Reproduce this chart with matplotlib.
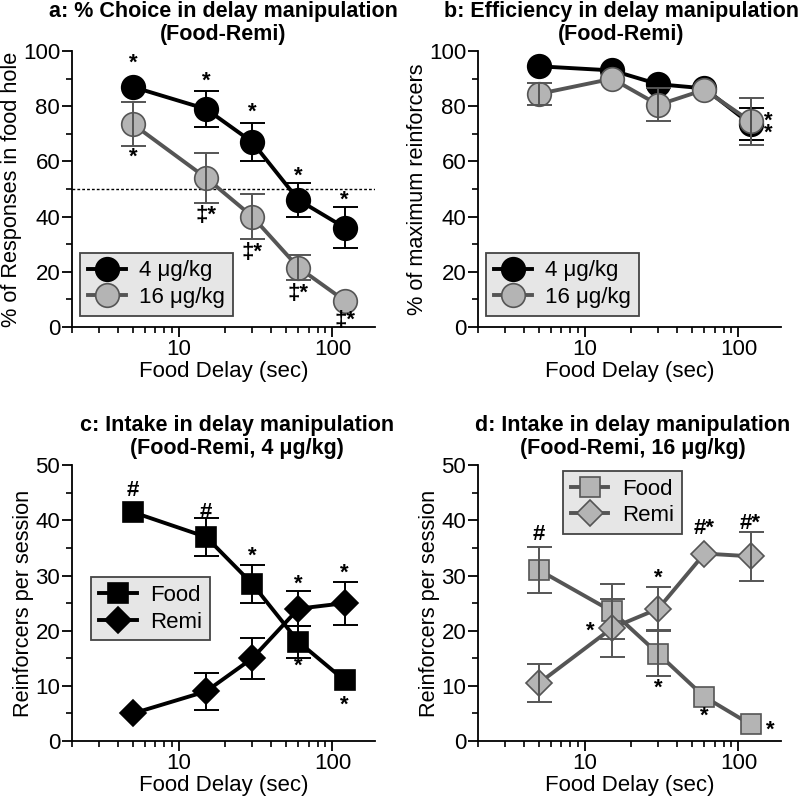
import matplotlib
matplotlib.use('Agg')
import matplotlib.pyplot as plt
from matplotlib.ticker import FixedLocator, MultipleLocator, NullFormatter

plt.rcParams['font.family'] = ['Liberation Sans', 'DejaVu Sans']

# Data (error of 0 = bar hidden behind marker in the original)
delay = [5, 15, 30, 60, 120]

# a: % choice in food hole
choice_4 = [87, 79, 67, 46, 36]
choice_4_err = [0, 6.5, 7, 6, 7.5]
choice_16 = [73.5, 54, 40, 21.5, 9.5]
choice_16_err = [8, 9, 8, 4.5, 0]

# b: efficiency
eff_4 = [94.5, 93, 88, 86.5, 73.5]
eff_4_err = [0, 0, 0, 0, 5.7]
eff_16 = [84.5, 90, 80.5, 86, 74.5]
eff_16_err = [4, 0, 6, 0, 8.5]

# c: intake at 4 ug/kg
food_4 = [41.5, 37, 28.5, 18, 11]
food_4_err = [0, 3.4, 3.4, 2.9, 0]
remi_4 = [5, 9, 15, 24, 25]
remi_4_err = [0, 3.3, 3.7, 3.2, 3.9]

# d: intake at 16 ug/kg
food_16 = [31, 23.5, 15.8, 8, 3]
food_16_err = [4.1, 5, 4.1, 0, 0]
remi_16 = [10.5, 20.5, 24, 34, 33.5]
remi_16_err = [3.5, 5.2, 3.9, 0, 4.4]

BLACK = 'black'
GRAY_LINE = '#555555'
GRAY_FILL = '#b4b4b4'

fig = plt.figure(figsize=(8, 7.99), dpi=100)
ax_a = fig.add_axes([0.09, 0.591, 0.379, 0.345])
ax_b = fig.add_axes([0.5975, 0.591, 0.379, 0.345])
ax_c = fig.add_axes([0.09, 0.0726, 0.379, 0.345])
ax_d = fig.add_axes([0.5975, 0.0726, 0.379, 0.345])


def series(ax, y, err, marker, ms, line, fill, label):
    ax.plot(delay, y, color=line, lw=2.8, marker=marker, ms=ms,
            mfc=fill, mec=line, mew=1.2, label=label, zorder=3)
    pts = [(x, v, e) for x, v, e in zip(delay, y, err) if e > 0]
    ax.errorbar([p[0] for p in pts], [p[1] for p in pts], yerr=[p[2] for p in pts],
                fmt='none', ecolor=line, elinewidth=1.4,
                capsize=9, capthick=1.4, zorder=4)


def style(ax, ymax, major, minor, ylabel, title, tx=0.5):
    ax.set_xscale('log')
    ax.set_xlim(2, 190)
    ax.set_ylim(0, ymax)
    ax.set_xticks([10, 100])
    ax.set_xticklabels(['10', '100'])
    ax.xaxis.set_minor_locator(FixedLocator([2, 3, 4, 5, 6, 7, 8, 9, 20, 30, 40, 50, 60, 70, 80, 90]))
    ax.xaxis.set_minor_formatter(NullFormatter())
    ax.yaxis.set_major_locator(MultipleLocator(major))
    ax.yaxis.set_minor_locator(MultipleLocator(minor))
    for s in ['top', 'right']:
        ax.spines[s].set_visible(False)
    for s in ['left', 'bottom']:
        ax.spines[s].set_linewidth(1.3)
    ax.tick_params(which='major', direction='out', length=7, width=1.3, labelsize=16, pad=1.5)
    ax.tick_params(which='minor', direction='out', length=4, width=1.2)
    ax.set_xlabel('Food Delay (sec)', fontsize=16, labelpad=1)
    ax.set_ylabel(ylabel, fontsize=15.7, labelpad=1)
    ax.set_title(title, fontsize=15.5, fontweight='bold', pad=8, linespacing=1.12, x=tx)


def legend(ax, loc, anchor):
    leg = ax.legend(loc=loc, bbox_to_anchor=anchor, fontsize=16, frameon=True,
                    fancybox=False, edgecolor='#444444', facecolor='#e6e6e6',
                    framealpha=1, handlelength=1.7, borderpad=0.35, labelspacing=0.25,
                    handletextpad=0.6, borderaxespad=0)
    leg.get_frame().set_linewidth(1.3)


def note(ax, x, y, s, dx=0):
    ax.annotate(s, (x, y), xytext=(dx, 0), textcoords='offset points',
                ha='center', va='center', fontsize=16, fontweight='bold')


# Panel a
series(ax_a, choice_4, choice_4_err, 'o', 17, BLACK, BLACK, '4 \u03bcg/kg')
series(ax_a, choice_16, choice_16_err, 'o', 17, GRAY_LINE, GRAY_FILL, '16 \u03bcg/kg')
ax_a.axhline(50, color='black', ls=(0, (2, 1.5)), lw=1, zorder=1)
style(ax_a, 100, 20, 10, '% of Responses in food hole',
      'a: % Choice in delay manipulation\n(Food-Remi)')
legend(ax_a, 'lower left', (0.027, 0.04))
for x, y in zip(delay, [95.5, 89, 78, 54.5, 46]):
    note(ax_a, x, y, '*')
note(ax_a, 5, 61.5, '*')
for x, y in zip(delay[1:], [40.5, 27, 12, 2.2]):
    note(ax_a, x, y, '\u2021*')

# Panel b
series(ax_b, eff_4, eff_4_err, 'o', 17, BLACK, BLACK, '4 \u03bcg/kg')
series(ax_b, eff_16, eff_16_err, 'o', 17, GRAY_LINE, GRAY_FILL, '16 \u03bcg/kg')
style(ax_b, 100, 20, 10, '% of maximum reinforcers',
      'b: Efficiency in delay manipulation\n(Food-Remi)', tx=0.472)
legend(ax_b, 'lower left', (0.027, 0.04))
ax_b.annotate('*\n*', (120, 74), xytext=(13, -3), textcoords='offset points',
              ha='center', va='center', fontsize=16, fontweight='bold', linespacing=0.45)

# Panel c
series(ax_c, food_4, food_4_err, 's', 15, BLACK, BLACK, 'Food')
series(ax_c, remi_4, remi_4_err, 'D', 13.5, BLACK, BLACK, 'Remi')
style(ax_c, 50, 10, 5, 'Reinforcers per session',
      'c: Intake in delay manipulation\n(Food-Remi, 4 \u03bcg/kg)', tx=0.543)
legend(ax_c, 'upper left', (0.063, 0.594))
note(ax_c, 5, 45.5, '#')
note(ax_c, 15, 41.5, '#')
note(ax_c, 30, 33.5, '*')
note(ax_c, 60, 28.5, '*')
note(ax_c, 120, 30.5, '*')
note(ax_c, 60, 13.5, '*')
note(ax_c, 120, 6.5, '*')

# Panel d
series(ax_d, food_16, food_16_err, 's', 15, GRAY_LINE, GRAY_FILL, 'Food')
series(ax_d, remi_16, remi_16_err, 'D', 13.5, GRAY_LINE, GRAY_FILL, 'Remi')
style(ax_d, 50, 10, 5, 'Reinforcers per session',
      'd: Intake in delay manipulation\n(Food-Remi, 16 \u03bcg/kg)', tx=0.51)
legend(ax_d, 'upper left', (0.28, 0.98))
note(ax_d, 5, 37.5, '#')
note(ax_d, 15, 20, '*', dx=-16)
note(ax_d, 30, 29.5, '*')
note(ax_d, 30, 9.5, '*')
note(ax_d, 60, 38.5, '#*')
note(ax_d, 120, 39.5, '#*')
note(ax_d, 60, 4.5, '*')
note(ax_d, 120, 2, '*', dx=14)

plt.savefig('out.png', dpi=100)
